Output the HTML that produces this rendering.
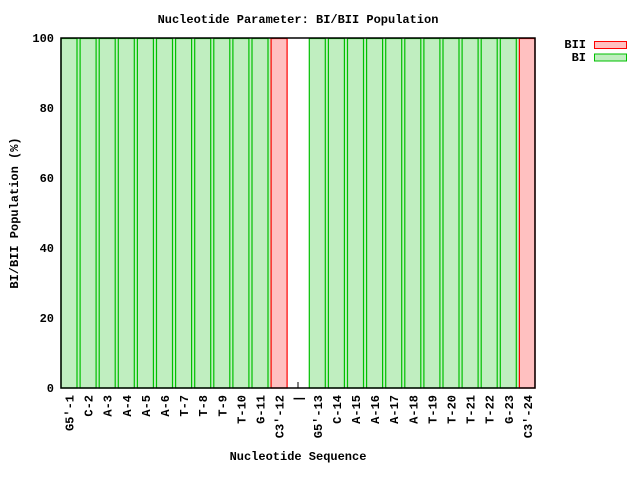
<!DOCTYPE html>
<html><head><style>body{margin:0;background:#fff}svg{display:block}text{font-family:"Liberation Mono",monospace;font-weight:bold;font-size:12px;fill:#000}</style></head><body>
<svg width="640" height="480" xmlns="http://www.w3.org/2000/svg">
<text x="298" y="23" text-anchor="middle">Nucleotide Parameter: BI/BII Population</text>
<rect x="61" y="38" width="474" height="350" fill="#c0eec0"/>
<rect x="287" y="38" width="22" height="350" fill="#fff"/>
<g fill="#c0eec0" stroke="#00c000" stroke-width="1.2">
<rect x="61" y="38.5" width="16" height="349.5"/><rect x="80.1" y="38.5" width="16" height="349.5"/><rect x="99.2" y="38.5" width="16" height="349.5"/><rect x="118.3" y="38.5" width="16" height="349.5"/><rect x="137.4" y="38.5" width="16" height="349.5"/><rect x="156.5" y="38.5" width="16" height="349.5"/><rect x="175.6" y="38.5" width="16" height="349.5"/><rect x="194.7" y="38.5" width="16" height="349.5"/><rect x="213.8" y="38.5" width="16" height="349.5"/><rect x="232.9" y="38.5" width="16" height="349.5"/><rect x="252" y="38.5" width="16" height="349.5"/>
<rect x="309.3" y="38.5" width="16" height="349.5"/><rect x="328.4" y="38.5" width="16" height="349.5"/><rect x="347.5" y="38.5" width="16" height="349.5"/><rect x="366.6" y="38.5" width="16" height="349.5"/><rect x="385.7" y="38.5" width="16" height="349.5"/><rect x="404.8" y="38.5" width="16" height="349.5"/><rect x="423.9" y="38.5" width="16" height="349.5"/><rect x="443" y="38.5" width="16" height="349.5"/><rect x="462.1" y="38.5" width="16" height="349.5"/><rect x="481.2" y="38.5" width="16" height="349.5"/><rect x="500.3" y="38.5" width="16" height="349.5"/>
</g>
<g fill="#ffc0c0" stroke="#ff0000" stroke-width="1.2">
<rect x="271.1" y="38.5" width="16" height="349.5"/><rect x="519.4" y="38.5" width="15.6" height="349.5"/>
</g>
<rect x="61" y="38" width="474" height="350" fill="none" stroke="#000" stroke-width="1.5"/>
<line x1="298" y1="388" x2="298" y2="382" stroke="#000"/>
<g text-anchor="end">
<text x="54" y="392">0</text><text x="54" y="322">20</text><text x="54" y="252">40</text><text x="54" y="182">60</text><text x="54" y="112">80</text><text x="54" y="42">100</text>
</g>
<g text-anchor="end">
<text transform="translate(73.5,395) rotate(-90)">G5'-1</text>
<text transform="translate(92.6,395) rotate(-90)">C-2</text>
<text transform="translate(111.7,395) rotate(-90)">A-3</text>
<text transform="translate(130.8,395) rotate(-90)">A-4</text>
<text transform="translate(149.9,395) rotate(-90)">A-5</text>
<text transform="translate(169,395) rotate(-90)">A-6</text>
<text transform="translate(188.1,395) rotate(-90)">T-7</text>
<text transform="translate(207.2,395) rotate(-90)">T-8</text>
<text transform="translate(226.3,395) rotate(-90)">T-9</text>
<text transform="translate(245.4,395) rotate(-90)">T-10</text>
<text transform="translate(264.5,395) rotate(-90)">G-11</text>
<text transform="translate(283.6,395) rotate(-90)">C3'-12</text>
<text transform="translate(302.7,395) rotate(-90)">|</text>
<text transform="translate(321.8,395) rotate(-90)">G5'-13</text>
<text transform="translate(340.9,395) rotate(-90)">C-14</text>
<text transform="translate(360,395) rotate(-90)">A-15</text>
<text transform="translate(379.1,395) rotate(-90)">A-16</text>
<text transform="translate(398.2,395) rotate(-90)">A-17</text>
<text transform="translate(417.3,395) rotate(-90)">A-18</text>
<text transform="translate(436.4,395) rotate(-90)">T-19</text>
<text transform="translate(455.5,395) rotate(-90)">T-20</text>
<text transform="translate(474.6,395) rotate(-90)">T-21</text>
<text transform="translate(493.7,395) rotate(-90)">T-22</text>
<text transform="translate(512.8,395) rotate(-90)">G-23</text>
<text transform="translate(531.9,395) rotate(-90)">C3'-24</text>
</g>
<text x="298" y="460" text-anchor="middle">Nucleotide Sequence</text>
<text transform="translate(18,213) rotate(-90)" text-anchor="middle">BI/BII Population (%)</text>
<text x="586" y="48" text-anchor="end">BII</text>
<rect x="594.5" y="41.5" width="32" height="7" fill="#ffc0c0" stroke="#ff0000"/>
<text x="586" y="61" text-anchor="end">BI</text>
<rect x="594.5" y="54" width="32" height="7" fill="#c0eec0" stroke="#00c000"/>
</svg>
</body></html>
